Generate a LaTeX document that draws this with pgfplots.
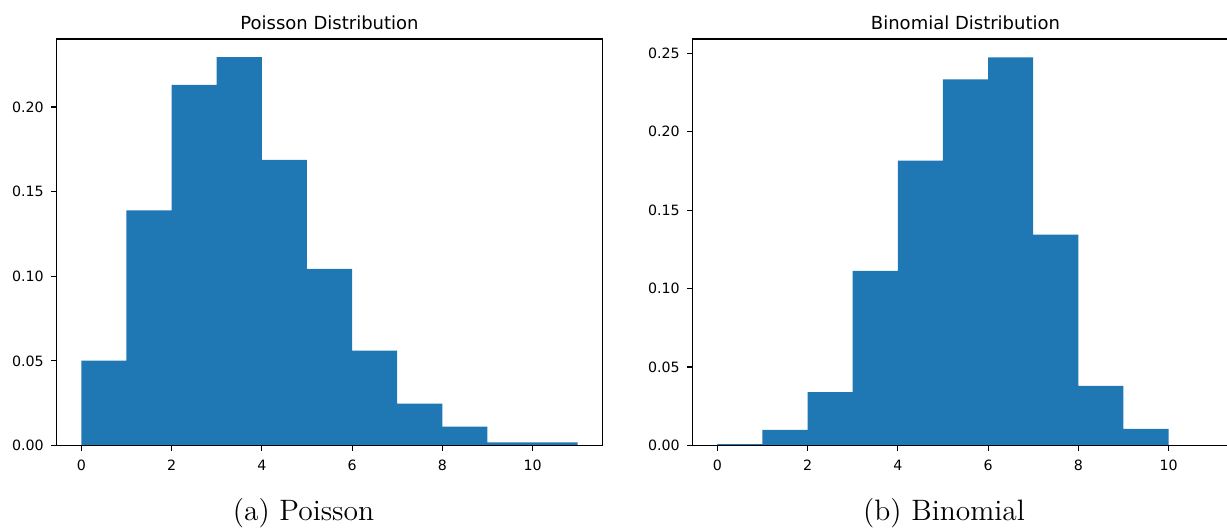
\documentclass[border=0pt]{standalone}
\usepackage{fontspec}
\usepackage{pgfplots}
\pgfplotsset{compat=1.18}
\newfontfamily\djv{DejaVu Sans}
\definecolor{c0}{HTML}{1F77B4}
\pgfplotsset{
  histax/.style={
    scale only axis, width=273pt, height=203.25pt,
    anchor=south west,
    xmin=-0.55, xmax=11.55, ymin=0,
    axis on top,
    axis line style={line width=0.55pt, black},
    tick align=outside, xtick pos=bottom, ytick pos=left,
    major tick length=2.75pt,
    every tick/.style={line width=0.55pt, black},
    xtick={0,2,4,6,8,10},
    /pgf/number format/assume math mode=true,
    tick label style={font=\djv\fontsize{7.1}{8}\selectfont, inner sep=0pt},
    yticklabel style={/pgf/number format/fixed, /pgf/number format/precision=2, /pgf/number format/fixed zerofill},
    scaled y ticks=false,
    xticklabel shift=4.15pt,
    yticklabel shift=3.45pt,
    every axis title/.style={font=\djv\fontsize{9}{10}\selectfont, at={(0.5,1)}, anchor=base, yshift=4.85pt, inner sep=0pt},
  }
}
\begin{document}
\begin{tikzpicture}
\begin{axis}[histax, at={(28.25pt,41.75pt)}, ymax=0.2402,
  ytick={0,0.05,0.10,0.15,0.20}, title={Poisson Distribution}]
\addplot[ybar interval, fill=c0, draw=none] coordinates {
(0,0.0502) (1,0.1390) (2,0.2131) (3,0.2295) (4,0.1688) (5,0.1043)
(6,0.0561) (7,0.0248) (8,0.0112) (9,0.0018) (10,0.0018) (11,0)};
\end{axis}
\begin{axis}[histax, at={(346.25pt,41.75pt)}, ymax=0.2591,
  ytick={0,0.05,0.10,0.15,0.20,0.25}, title={Binomial Distribution}]
\addplot[ybar interval, fill=c0, draw=none] coordinates {
(0,0.0009) (1,0.0100) (2,0.0340) (3,0.1113) (4,0.1815) (5,0.2334)
(6,0.2474) (7,0.1344) (8,0.0380) (9,0.0106) (10,0)};
\end{axis}
\node[font=\fontsize{14.75}{16}\selectfont, anchor=base] at (151.75pt,4pt) {(a) Poisson};
\node[font=\fontsize{14.75}{16}\selectfont, anchor=base] at (472pt,4pt) {(b) Binomial};
\pgfresetboundingbox
\path (0,0) rectangle (613.5pt,264.5pt);
\end{tikzpicture}
\end{document}
